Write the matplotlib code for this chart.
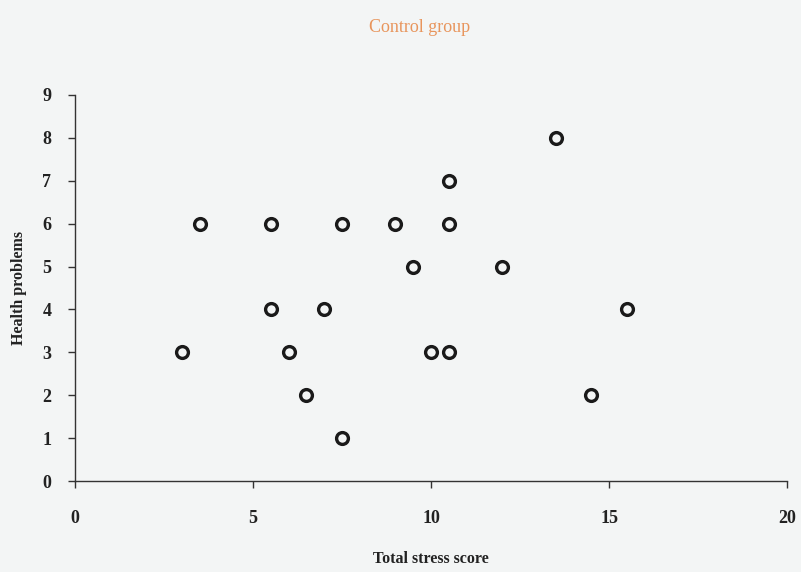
import matplotlib.pyplot as plt

# stress score vs number of health problems, control group
stress = [3, 3.5, 5.5, 5.5, 6, 6.5, 7, 7.5, 7.5, 9, 9.5, 10, 10.5, 10.5, 10.5, 12, 13.5, 14.5, 15.5]
health = [3, 6, 6, 4, 3, 2, 4, 6, 1, 6, 5, 3, 3, 6, 7, 5, 8, 2, 4]
x_ticks = [0, 5, 10, 15, 20]
y_ticks = list(range(10))

plt.rcParams['font.family'] = ['Liberation Serif', 'DejaVu Serif']

fig = plt.figure(figsize=(8.01, 5.72), dpi=100)
fig.patch.set_facecolor('#f3f5f5')
ax = fig.add_axes([0.0936, 0.159, 0.889, 0.675])
ax.set_facecolor('#f3f5f5')

ax.plot(stress, health, linestyle='none', marker='o', markersize=8.5,
        markerfacecolor='none', markeredgecolor='#1a1a1a', markeredgewidth=2.4,
        clip_on=False)

ax.set_xlim(0, 20)
ax.set_ylim(0, 9)
ax.set_xticks(x_ticks)
ax.set_yticks(y_ticks)
ax.spines['top'].set_visible(False)
ax.spines['right'].set_visible(False)
for s in ('left', 'bottom'):
    ax.spines[s].set_color('#333333')
    ax.spines[s].set_linewidth(1.0)

ax.tick_params(axis='x', direction='out', length=5, width=1, colors='#333333',
               pad=16, labelsize=13, labelcolor='#222222')
ax.tick_params(axis='y', direction='out', length=5, width=1, colors='#333333',
               pad=12, labelsize=13, labelcolor='#222222')
for lbl in ax.get_xticklabels() + ax.get_yticklabels():
    lbl.set_fontweight('bold')

ax.set_xlabel('Total stress score', fontsize=11.5, fontweight='bold',
              color='#222222', labelpad=17)
ax.set_ylabel('Health problems', fontsize=11.5, fontweight='bold',
              color='#222222', labelpad=11)

fig.text(0.524, 0.952, 'Control group', ha='center', va='center',
         fontsize=13, color='#e8955c')

fig.savefig('out.png', dpi=100, facecolor=fig.get_facecolor())
